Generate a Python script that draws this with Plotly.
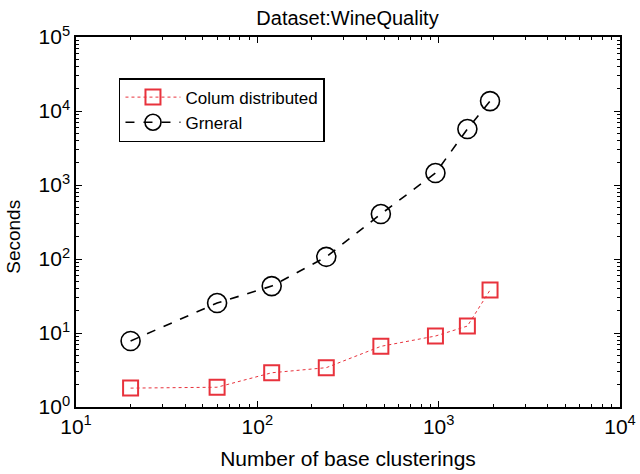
import plotly.graph_objects as go

x_vals = [20, 60, 120, 240, 480, 960, 1440, 1920]
col_dist = [1.8, 1.85, 2.9, 3.4, 6.6, 9.1, 12.4, 38]
general = [7.8, 25.4, 43, 107, 405, 1450, 5700, 13600]

x_ticks = [10, 100, 1000, 10000]
x_ticktext = ["10<sup>1</sup>", "10<sup>2</sup>", "10<sup>3</sup>", "10<sup>4</sup>"]
y_ticks = [1, 10, 100, 1000, 10000, 100000]
y_ticktext = ["10<sup>0</sup>", "10<sup>1</sup>", "10<sup>2</sup>", "10<sup>3</sup>", "10<sup>4</sup>", "10<sup>5</sup>"]

red = "#e8323c"
font = "Liberation Sans, Arial, Helvetica, sans-serif"

fig = go.Figure()
fig.add_trace(go.Scatter(
    x=x_vals, y=col_dist, name="Colum distributed", mode="lines+markers",
    line=dict(color=red, width=1, dash="dot"),
    marker=dict(symbol="square-open", size=15, color=red, line=dict(width=2, color=red)),
))
fig.add_trace(go.Scatter(
    x=x_vals, y=general, name="Grneral", mode="lines+markers",
    line=dict(color="black", width=1.6, dash="dash"),
    marker=dict(symbol="circle-open", size=19, color="black", line=dict(width=1.6, color="black")),
))

def minor_vals(lo, hi):
    v = []
    for e in range(lo, hi):
        for m in range(2, 10):
            v.append(m * 10 ** e)
    return v

axis_common = dict(
    showline=True, linecolor="black", linewidth=1.5, mirror="ticks",
    ticks="inside", ticklen=6, tickcolor="black", tickwidth=1,
    showgrid=False, zeroline=False, automargin=False,
    tickfont=dict(family=font, size=21, color="black"),
)

fig.update_xaxes(
    type="log", range=[1, 4], tickmode="array", tickvals=x_ticks, ticktext=x_ticktext,
    minor=dict(tickmode="array", tickvals=minor_vals(1, 4), ticks="inside", ticklen=3, tickcolor="black"),
    title=dict(text="Number of base clusterings", font=dict(family=font, size=21, color="black"), standoff=14),
    **axis_common,
)
fig.update_yaxes(
    type="log", range=[0, 5], tickmode="array", tickvals=y_ticks, ticktext=y_ticktext,
    minor=dict(tickmode="array", tickvals=minor_vals(0, 5), ticks="inside", ticklen=3, tickcolor="black"),
    **axis_common,
)

fig.add_annotation(
    text="Seconds", xref="paper", yref="paper", x=-0.114, y=0.46,
    xanchor="center", yanchor="middle", textangle=-90, showarrow=False,
    font=dict(family=font, size=19, color="black"),
)

fig.update_layout(
    width=640, height=474,
    margin=dict(l=76, r=20, t=37, b=67),
    paper_bgcolor="white", plot_bgcolor="white",
    title=dict(text="Dataset:WineQuality", x=0.543, xanchor="center", y=0.963, yanchor="middle",
               font=dict(family=font, size=20, color="black")),
    legend=dict(x=0.079, y=0.889, xanchor="left", yanchor="top",
                bordercolor="black", borderwidth=1.5, bgcolor="white",
                font=dict(family=font, size=17, color="black"),
                tracegroupgap=0, itemwidth=55),
    showlegend=True,
)

fig.write_html("out.html")
